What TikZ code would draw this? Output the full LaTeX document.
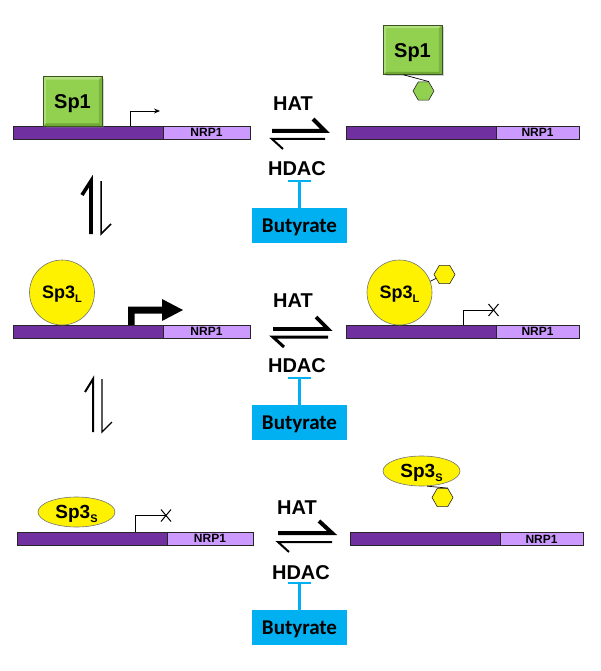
\documentclass[tikz,border=0pt]{standalone}
\usepackage{fontspec}
\setmainfont{Liberation Sans}
\newfontfamily\carl{Carlito}
\usetikzlibrary{shapes.geometric,arrows.meta,shadows}
\definecolor{dpur}{HTML}{7030A0}
\definecolor{lpur}{HTML}{CC99FF}
\definecolor{sgreen}{HTML}{92D050}
\definecolor{sglight}{HTML}{B3E07F}
\definecolor{sgdark}{HTML}{6FA834}
\definecolor{cyanb}{HTML}{00B0F0}
\newcommand{\subL}[1]{\raisebox{-4pt}{\fontsize{11}{11}\selectfont #1}}
\begin{document}
\begin{tikzpicture}[x=1pt,y=-1pt,
  dnabar/.style={draw=black!85, line width=0.7pt, fill=dpur, minimum height=13pt, minimum width=150pt, inner sep=0pt},
  genebox/.style={draw=black!85, line width=0.7pt, fill=lpur, minimum height=13pt, inner sep=0pt,
     font=\fontsize{12}{12}\selectfont\bfseries, text height=8.6pt, text depth=0pt},
  sponebox/.style={draw=black!60!sgreen, line width=0.6pt, fill=sgreen, minimum width=58pt, minimum height=49pt, inner sep=0pt,
     font=\fontsize{20}{24}\selectfont\bfseries, text height=14.3pt, text depth=0pt,
     drop shadow={shadow xshift=2pt, shadow yshift=-2pt, opacity=0.35}},
  spbig/.style={circle, draw=black!55, line width=0.6pt, fill=yellow, minimum size=65pt, inner sep=0pt,
     font=\fontsize{18}{22}\selectfont\bfseries, text height=12.9pt, text depth=0pt},
  spsmall/.style={ellipse, draw=black!55, line width=0.6pt, fill=yellow, minimum width=77pt, minimum height=30pt, inner sep=0pt,
     font=\fontsize{19}{22}\selectfont\bfseries, text height=13.6pt, text depth=0pt},
  hexa/.style={regular polygon, regular polygon sides=6, minimum size=21pt, inner sep=0pt, draw=black!85, line width=0.6pt},
  lab/.style={font=\fontsize{20}{24}\selectfont\bfseries, inner sep=0pt, text height=14.3pt, text depth=0pt},
  butbox/.style={fill=cyanb, minimum width=95pt, minimum height=35pt, inner sep=0pt,
     font=\carl\fontsize{21}{24}\selectfont\bfseries, text height=13.5pt, text depth=0pt},
  tbar/.style={draw=cyanb, line width=2.6pt},
  promo/.style={line width=0.9pt},
  harp/.style={line join=miter, line cap=butt}
]
\useasboundingbox (0,0) rectangle (600,671);

% ================= Row 1 =================
\node[dnabar] (d1l) at (88,132.5) {};
\node[genebox, minimum width=87pt] (g1l) at (206.5,132.5) {NRP1};
\node[dnabar] (d1r) at (421,132.5) {};
\node[genebox, minimum width=83pt] (g1r) at (537.5,132.5) {NRP1};

\node[sponebox] (sp1l) at (72.5,101.5) {Sp1};
\node[sponebox] (sp1r) at (412.5,50) {Sp1};
\foreach \b in {sp1l,sp1r}{
  \fill[sglight] (\b.north west) -- (\b.north east) -- ([xshift=-3pt,yshift=-3pt]\b.north east) -- ([xshift=3pt,yshift=-3pt]\b.north west) -- cycle;
  \fill[sglight!80!sgreen] (\b.north west) -- ([xshift=3pt,yshift=-3pt]\b.north west) -- ([xshift=3pt,yshift=3pt]\b.south west) -- (\b.south west) -- cycle;
  \fill[sgdark] (\b.south west) -- (\b.south east) -- ([xshift=-3pt,yshift=3pt]\b.south east) -- ([xshift=3pt,yshift=3pt]\b.south west) -- cycle;
  \fill[sgdark!70!sgreen] (\b.north east) -- ([xshift=-3pt,yshift=-3pt]\b.north east) -- ([xshift=-3pt,yshift=3pt]\b.south east) -- (\b.south east) -- cycle;
  \draw[black!60!sgreen, line width=0.6pt] (\b.north west) rectangle (\b.south east);
}
\node[hexa, fill=sgreen] (hx1) at (423.5,91) {};
\draw[line width=0.7pt] (sp1r.250) -- (hx1.corner 1);

\coordinate (pr1a) at (130.5,126);
\coordinate (pr1b) at (130.5,111);
\coordinate (pr1c) at (160,111);
\draw[promo, -{Stealth[length=6pt,width=5pt]}] (pr1a) -- (pr1b) -- (pr1c);

\node[lab] (hat1) at (293,103) {HAT};
\node[lab] (hdac1) at (297,168) {HDAC};
\coordinate (e1a) at (272,131); \coordinate (e1b) at (325,131); \coordinate (e1c) at (313,119);
\coordinate (e1d) at (325,139); \coordinate (e1e) at (272,139); \coordinate (e1f) at (283,149);
\draw[harp, line width=4pt] (e1a) -- (e1b) -- (e1c);
\draw[harp, line width=2pt] (e1d) -- (e1e) -- (e1f);
\node[butbox] (bt1) at (299.5,225.5) {Butyrate};
\coordinate (t1) at (299.5,181);
\draw[tbar] (bt1.north) -- (t1);
\draw[tbar] ([xshift=-11.5pt]t1) -- ([xshift=11.5pt]t1);

% vertical equilibrium 1
\coordinate (v1a) at (91,181); \coordinate (v1b) at (91,234); \coordinate (v1c) at (82,195);
\coordinate (v1d) at (101,181); \coordinate (v1e) at (101,234); \coordinate (v1f) at (111,224);
\draw[harp, line width=3.6pt] (v1b) -- (v1a) -- (v1c);
\draw[harp, line width=1.5pt] (v1d) -- (v1e) -- (v1f);

% ================= Row 2 =================
\node[dnabar] (d2l) at (88,331.5) {};
\node[genebox, minimum width=87pt] (g2l) at (206.5,331.5) {NRP1};
\node[dnabar] (d2r) at (421,331.5) {};
\node[genebox, minimum width=83pt] (g2r) at (537.5,331.5) {NRP1};

\node[spbig] (sp3l) at (62,292.5) {Sp3\subL{L}};
\node[spbig] (sp3r) at (399.5,292.5) {Sp3\subL{L}};
\node[hexa, fill=yellow] (hx2) at (444.5,274.5) {};
\draw[line width=0.7pt] (sp3r.20) -- (hx2.205);

% strong promoter arrow
\fill (128,325) -- (128,306.5) -- (162,306.5) -- (162,299) -- (183,310) -- (162,321) -- (162,313.5) -- (134.5,313.5) -- (134.5,325) -- cycle;

% blocked promoter
\coordinate (pr2a) at (463,325);
\coordinate (pr2b) at (463,310);
\coordinate (pr2c) at (493.5,310);
\draw[promo] (pr2a) -- (pr2b) -- (pr2c);
\draw[line width=1pt] ([xshift=-5pt,yshift=6pt]pr2c) -- ([xshift=5pt,yshift=-6pt]pr2c);
\draw[line width=1pt] ([xshift=-5pt,yshift=-6pt]pr2c) -- ([xshift=5pt,yshift=6pt]pr2c);

\node[lab] (hat2) at (293,300) {HAT};
\node[lab] (hdac2) at (297,365) {HDAC};
\coordinate (e2a) at (273,329); \coordinate (e2b) at (328,329); \coordinate (e2c) at (316,317);
\coordinate (e2d) at (328,337); \coordinate (e2e) at (273,337); \coordinate (e2f) at (284,347);
\draw[harp, line width=3.8pt] (e2a) -- (e2b) -- (e2c);
\draw[harp, line width=3pt] (e2d) -- (e2e) -- (e2f);
\node[butbox] (bt2) at (299.5,422.5) {Butyrate};
\coordinate (t2) at (299.5,378);
\draw[tbar] (bt2.north) -- (t2);
\draw[tbar] ([xshift=-11.5pt]t2) -- ([xshift=11.5pt]t2);

% vertical equilibrium 2
\coordinate (v2a) at (93,379); \coordinate (v2b) at (93,432); \coordinate (v2c) at (85,392);
\coordinate (v2d) at (102,379); \coordinate (v2e) at (102,432); \coordinate (v2f) at (112,422);
\draw[harp, line width=2pt] (v2b) -- (v2a) -- (v2c);
\draw[harp, line width=1.3pt] (v2d) -- (v2e) -- (v2f);

% ================= Row 3 =================
\node[dnabar] (d3l) at (92,538.5) {};
\node[genebox, minimum width=86pt] (g3l) at (210,538.5) {NRP1};
\node[dnabar] (d3r) at (425,539) {};
\node[genebox, minimum width=83pt] (g3r) at (541.5,539) {NRP1};

\node[spsmall] (sp3sl) at (76.5,512) {Sp3\subL{S}};
\node[spsmall] (sp3sr) at (421.5,471) {Sp3\subL{S}};
\node[hexa, fill=yellow] (hx3) at (442.5,497.5) {};
\draw[line width=0.7pt] (sp3sr.290) -- (hx3.corner 1);

\coordinate (pr3a) at (135,532);
\coordinate (pr3b) at (135,515.5);
\coordinate (pr3c) at (166,515.5);
\draw[promo] (pr3a) -- (pr3b) -- (pr3c);
\draw[line width=1pt] ([xshift=-5pt,yshift=6pt]pr3c) -- ([xshift=5pt,yshift=-6pt]pr3c);
\draw[line width=1pt] ([xshift=-5pt,yshift=-6pt]pr3c) -- ([xshift=5pt,yshift=6pt]pr3c);

\node[lab] (hat3) at (297,507) {HAT};
\node[lab] (hdac3) at (301,572) {HDAC};
\coordinate (e3a) at (278,533); \coordinate (e3b) at (332,533); \coordinate (e3c) at (319,521);
\coordinate (e3d) at (332,542); \coordinate (e3e) at (278,542); \coordinate (e3f) at (289,552);
\draw[harp, line width=4pt] (e3a) -- (e3b) -- (e3c);
\draw[harp, line width=2pt] (e3d) -- (e3e) -- (e3f);
\node[butbox] (bt3) at (299.5,627.5) {Butyrate};
\coordinate (t3) at (299.5,583);
\draw[tbar] (bt3.north) -- (t3);
\draw[tbar] ([xshift=-11.5pt]t3) -- ([xshift=11.5pt]t3);
\end{tikzpicture}
\end{document}
